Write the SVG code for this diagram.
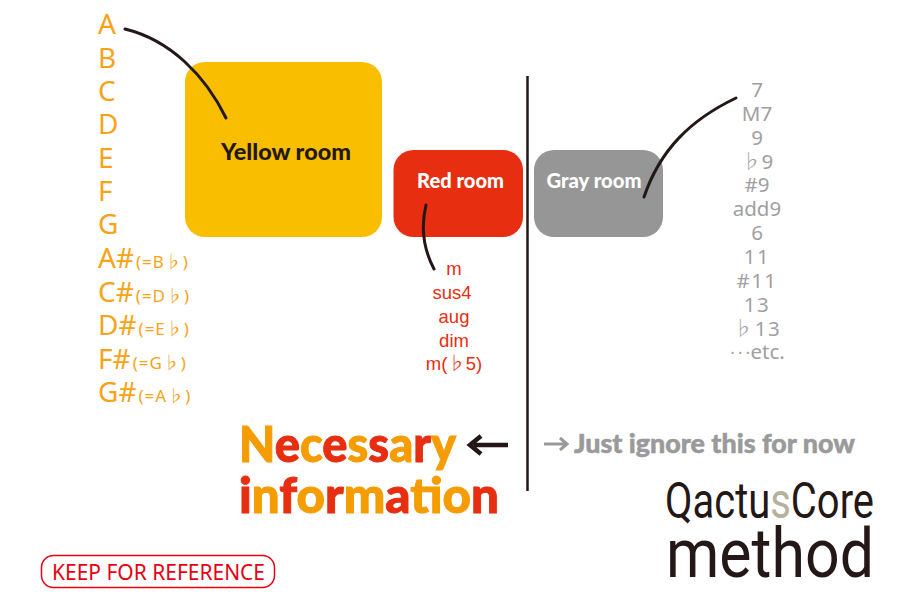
<svg xmlns="http://www.w3.org/2000/svg" width="900" height="600" viewBox="0 0 900 600">
<style>
text{font-family:"Noto Sans","Noto Sans CJK JP",sans-serif;font-size:16px}
.o{fill:#f59c00}.rd{fill:#e72e10}
.big .o{stroke:#f59c00;stroke-width:1px}.big .rd{stroke:#e72e10;stroke-width:1px}
.fl{font-family:"Noto Sans CJK JP",sans-serif;font-weight:300}
.n{font-size:28px;font-weight:400;fill:#f7a318}.s{font-size:17px;font-weight:400;fill:#f7a318;letter-spacing:1px}
.c{font-size:18.500px;text-anchor:middle;fill:#e72e10;font-family:"Liberation Sans","Noto Sans CJK JP",sans-serif}
.gl{font-size:20.500px;font-weight:400;text-anchor:middle;fill:#a0a0a0}
.room{font-family:"Lato",sans-serif;font-weight:900;text-anchor:middle}
.big{font-family:"Lato",sans-serif;font-weight:900;font-size:50px}
.wire{fill:none;stroke:#231815;stroke-linecap:round}
.logo{font-family:"Roboto",sans-serif;fill:#231815}
.ign{font-family:"Lato",sans-serif;font-weight:900;fill:#9a9a9a;stroke:#9a9a9a;stroke-width:.5px}
</style>
<g id="yellow-room"><rect x="185" y="62" width="197" height="175" rx="20" fill="#fabe00"/><text class="room" x="286" y="160" font-size="23" style="font-size:23px" fill="#231815" textLength="130" lengthAdjust="spacingAndGlyphs">Yellow room</text></g>
<g id="red-room"><rect x="393.500" y="150" width="129.500" height="87" rx="20" fill="#e72e10"/><text class="room" x="460.500" y="188" style="font-size:20px" fill="#fff" textLength="87" lengthAdjust="spacingAndGlyphs">Red room</text></g>
<g id="gray-room"><rect x="534" y="150" width="129" height="87" rx="20" fill="#969696"/><text class="room" x="594" y="188" style="font-size:20px" fill="#fff" textLength="95" lengthAdjust="spacingAndGlyphs">Gray room</text></g>
<g id="connectors">
<path class="wire" stroke-width="3" d="M125 29C170 40 205 75 226 118"/>
<path class="wire" stroke-width="3" d="M426 205C420 230 424 250 434 269"/>
<path class="wire" stroke-width="3" d="M644 197C660 150 690 120 736 98"/>
<path class="wire" stroke-width="2.500" style="stroke-linecap:butt" d="M527.500 76V491"/>
</g>
<g id="roots">
<text class="n" x="98" y="34">A</text><text class="n" x="98" y="68">B</text><text class="n" x="98" y="101">C</text><text class="n" x="98" y="134">D</text><text class="n" x="98" y="168">E</text><text class="n" x="98" y="201">F</text><text class="n" x="98" y="234">G</text>
<text x="98" y="268"><tspan class="n">A#</tspan><tspan class="s" dx="2">(=B</tspan><tspan class="s fl">♭</tspan><tspan class="s">)</tspan></text>
<text x="98" y="302"><tspan class="n">C#</tspan><tspan class="s" dx="2">(=D</tspan><tspan class="s fl">♭</tspan><tspan class="s">)</tspan></text>
<text x="98" y="335"><tspan class="n">D#</tspan><tspan class="s" dx="2">(=E</tspan><tspan class="s fl">♭</tspan><tspan class="s">)</tspan></text>
<text x="98" y="369"><tspan class="n">F#</tspan><tspan class="s" dx="2">(=G</tspan><tspan class="s fl">♭</tspan><tspan class="s">)</tspan></text>
<text x="98" y="402"><tspan class="n">G#</tspan><tspan class="s" dx="2">(=A</tspan><tspan class="s fl">♭</tspan><tspan class="s">)</tspan></text>
</g>
<g id="red-list">
<text class="c" x="454" y="275">m</text><text class="c" x="452" y="299">sus4</text><text class="c" x="454" y="323">aug</text><text class="c" x="454" y="347">dim</text><text class="c" x="454" y="370">m(<tspan class="fl">♭</tspan>5)</text>
</g>
<g id="gray-list">
<text class="gl" x="757" y="97">7</text><text class="gl" x="757" y="121">M7</text><text class="gl" x="757" y="145">9</text><text class="gl" x="757" y="169"><tspan class="fl">♭</tspan>9</text><text class="gl" x="757" y="192">#9</text><text class="gl" x="757" y="216">add9</text><text class="gl" x="757" y="240">6</text><text class="gl" x="757" y="264" letter-spacing="1.500">11</text><text class="gl" x="757" y="288" letter-spacing="1.500">#11</text><text class="gl" x="757" y="312" letter-spacing="1.500">13</text><text class="gl" x="757" y="336" letter-spacing="1.500"><tspan class="fl">♭</tspan>13</text><text class="gl" x="757" y="359"><tspan class="fl" dy="-5">…</tspan><tspan dy="5">etc.</tspan></text>
</g>
<g id="necessary">
<text class="big" x="239" y="462" textLength="217" lengthAdjust="spacingAndGlyphs"><tspan class="o">N</tspan><tspan class="rd">e</tspan><tspan class="o">c</tspan><tspan class="rd">e</tspan><tspan class="o">s</tspan><tspan class="rd">s</tspan><tspan class="o">a</tspan><tspan class="rd">r</tspan><tspan class="o">y</tspan></text>
<text class="big" x="239" y="513" textLength="260" lengthAdjust="spacingAndGlyphs"><tspan class="rd">i</tspan><tspan class="o">n</tspan><tspan class="rd">f</tspan><tspan class="o">o</tspan><tspan class="rd">r</tspan><tspan class="o">m</tspan><tspan class="rd">a</tspan><tspan class="o">t</tspan><tspan class="rd">i</tspan><tspan class="o">o</tspan><tspan class="rd">n</tspan></text>
<path d="M508 445H474M481 436L470 445L481 454" fill="none" stroke="#231815" stroke-width="4.500"/>
</g>
<g id="ignore">
<path d="M544 444H566M560 438L567 444L560 450" fill="none" stroke="#9a9a9a" stroke-width="3"/>
<text class="ign" x="574" y="453" style="font-size:26px" textLength="281" lengthAdjust="spacingAndGlyphs">Just ignore this for now</text></g>
<g id="logo">
<text class="logo" x="665" y="518" style="font-size:50px" textLength="209" lengthAdjust="spacingAndGlyphs">Qactu<tspan fill="#b5b19c">s</tspan>Core</text>
<text class="logo" x="666" y="577" style="font-size:68px" textLength="208" lengthAdjust="spacingAndGlyphs">method</text>
</g>
<g id="keep"><rect x="41.500" y="555.500" width="233" height="32" rx="12" fill="#fff" stroke="#e60012" stroke-width="1.500"/><text x="158.500" y="580" style="font-size:22px" text-anchor="middle" fill="#e60012" textLength="213" lengthAdjust="spacingAndGlyphs">KEEP FOR REFERENCE</text></g>
</svg>
